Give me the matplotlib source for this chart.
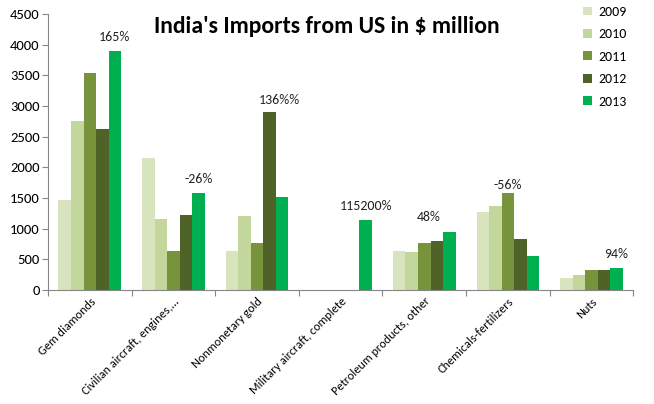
import matplotlib.pyplot as plt
import numpy as np

plt.rcParams['font.family'] = ['Carlito', 'Lato', 'DejaVu Sans']

categories = ["Gem diamonds", "Civilian aircraft, engines,...", "Nonmonetary gold",
              "Military aircraft, complete", "Petroleum products, other",
              "Chemicals-fertilizers", "Nuts"]
years = ["2009", "2010", "2011", "2012", "2013"]
v2009 = [1470, 2160, 640, 0, 640, 1280, 190]
v2010 = [2760, 1160, 1200, 0, 625, 1375, 250]
v2011 = [3540, 640, 770, 3, 775, 1590, 320]
v2012 = [2630, 1230, 2910, 1, 800, 840, 335]
v2013 = [3900, 1590, 1520, 1150, 950, 560, 360]
colors = ["#d7e4bd", "#c3d69b", "#77933c", "#4f6228", "#00b050"]

# growth labels: text, x offset in category units, y value
labels = ["165%", "-26%", "136%%", "115200%", "48%", "-56%", "94%"]
label_off = [0.30, 0.30, 0.27, 0.30, 0.05, 0.0, 0.30]
label_y = [4125, 1810, 3100, 1370, 1190, 1712, 587]

series = [v2009, v2010, v2011, v2012, v2013]
x = np.arange(len(categories))
w = 0.15

fig = plt.figure(figsize=(6.54, 4.04), dpi=100)
ax = fig.add_axes([0.0734, 0.282, 0.895, 0.683])

for i, vals in enumerate(series):
    ax.bar(x + (i - 2) * w, vals, w, color=colors[i], label=years[i])

for i, t in enumerate(labels):
    ax.text(x[i] + label_off[i], label_y[i], t, ha='center', va='center',
            fontsize=10, color='#222222')

ax.set_xlim(-0.5, len(categories) - 0.5)
ax.set_ylim(0, 4500)
ax.set_yticks(range(0, 4501, 500))
ax.set_xticks(np.arange(-0.5, len(categories), 1.0))
ax.set_xticklabels([])
ax.set_xticks(x, minor=True)
ax.set_xticklabels(categories, minor=True, rotation=45, ha='right',
                   rotation_mode='anchor', fontsize=8.8)
ax.tick_params(axis='x', which='minor', length=0, pad=4)
ax.tick_params(axis='x', which='major', length=4, color='#868686', direction='out')
ax.tick_params(axis='y', length=4, color='#868686', labelsize=10.5, pad=2)

for s in ['top', 'right']:
    ax.spines[s].set_visible(False)
for s in ['left', 'bottom']:
    ax.spines[s].set_color('#868686')

fig.text(0.5, 0.935, "India's Imports from US in $ million", ha='center',
         va='center', fontsize=17, fontweight='bold')

ax.legend(loc='upper left', bbox_to_anchor=(0.893, 1.075), frameon=False,
          fontsize=10, handlelength=0.6, handleheight=0.6, handletextpad=0.5,
          labelspacing=0.75)

fig.savefig("out.png", dpi=100)
